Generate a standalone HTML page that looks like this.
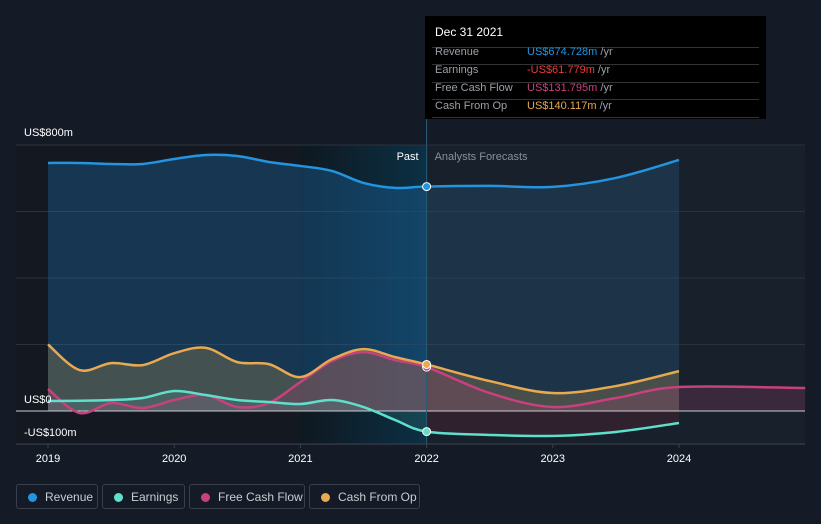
<!DOCTYPE html>
<html><head><meta charset="utf-8"><style>
body{margin:0;background:#151b26;font-family:"Liberation Sans",sans-serif;}
svg{display:block}
.lg{position:absolute;top:484px;height:25px;border:1px solid #3a404b;border-radius:3px;color:#c9ccd2;font-size:12px;line-height:25px;box-sizing:border-box}
.lg i{display:inline-block;width:9px;height:9px;border-radius:50%;margin:0 8px 0 11px;vertical-align:-1px}
</style></head><body>
<div style="position:relative;width:821px;height:524px;overflow:hidden">
<svg id="c" width="821" height="524"></svg>
<div class="lg" style="left:16px;width:82px"><i style="background:#2394df"></i>Revenue</div>
<div class="lg" style="left:102px;width:83px"><i style="background:#5fe0cc"></i>Earnings</div>
<div class="lg" style="left:189px;width:116px"><i style="background:#c8417f"></i>Free Cash Flow</div>
<div class="lg" style="left:309px;width:111px"><i style="background:#e8a951"></i>Cash From Op</div>
<div style="position:absolute;left:425px;top:16px;width:341px;height:103px;background:#000;font-size:11px;color:#9aa0a8">
<div style="position:absolute;left:10px;top:9px;color:#fff;font-size:12px">Dec 31 2021</div>
<div style="position:absolute;left:7px;right:7px;top:31px;border-top:1px solid #333"></div>
<div style="position:absolute;left:7px;right:7px;top:48px;border-top:1px solid #333"></div>
<div style="position:absolute;left:7px;right:7px;top:66px;border-top:1px solid #333"></div>
<div style="position:absolute;left:7px;right:7px;top:83px;border-top:1px solid #333"></div>
<div style="position:absolute;left:7px;right:7px;top:101px;border-top:1px solid #333"></div>
<div style="position:absolute;left:10px;top:27px;line-height:18px">Revenue<br>Earnings<br>Free Cash Flow<br>Cash From Op</div>
<div style="position:absolute;left:102px;top:27px;line-height:18px"><span style="color:#2394df">US$674.728m</span> /yr<br><span style="color:#ee3b3b">-US$61.779m</span> /yr<br><span style="color:#c8417f">US$131.795m</span> /yr<br><span style="color:#e8a951">US$140.117m</span> /yr</div>
</div>
</div>
<script>
const years=[2019,2019.25,2019.5,2019.75,2020,2020.25,2020.5,2020.75,2021,2021.25,2021.5,2021.75,2022,2022.5,2023,2023.5,2024];
const revenue=[746,746,743,743,758,770,767,749,737,722,686,671,675,677,674,701,755];
const cashFromOp=[200,123,144,138,174,190,147,141,102,156,186,162,140,90,54,75,120];
const fcfYears=[2019,2019.25,2019.5,2019.75,2020,2020.25,2020.5,2020.75,2021,2021.25,2021.5,2021.75,2022,2022.5,2023,2023.5,2024,2025];
const freeCashFlow=[66,-6,24,9,33,48,12,24,87,150,177,153,132,54,12,39,72,69];
const earnings=[30,31,33,39,60,48,33,27,21,33,12,-27,-62,-72,-75,-63,-36];
const yTicks=[800,0,-100];
const yTickLabels=["US$800m","US$0","-US$100m"];
const xTicks=[2019,2020,2021,2022,2023,2024];
const X=t=>48+(t-2019)*126.2;
const Y=v=>411-v*0.3325;
const svg=document.getElementById('c');
const NS='http://www.w3.org/2000/svg';
function el(tag,attrs,parent){const e=document.createElementNS(NS,tag);for(const k in attrs)e.setAttribute(k,attrs[k]);(parent||svg).appendChild(e);return e;}
function curve(xs,vs){const p=xs.map((t,i)=>[X(t),Y(vs[i])]);let d='M'+p[0][0]+','+p[0][1];for(let i=0;i<p.length-1;i++){const p0=p[i-1]||p[i],p1=p[i],p2=p[i+1],p3=p[i+2]||p2;d+=` C${p1[0]+(p2[0]-p0[0])/6},${p1[1]+(p2[1]-p0[1])/6} ${p2[0]-(p3[0]-p1[0])/6},${p2[1]-(p3[1]-p1[1])/6} ${p2[0]},${p2[1]}`;}return d;}
const defs=el('defs',{});
const g=el('linearGradient',{id:'past',x1:0,x2:1,y1:0,y2:0},defs);
el('stop',{offset:0,'stop-color':'#0e1820'},g);el('stop',{offset:1,'stop-color':'#0c3044'},g);
const cp1=el('clipPath',{id:'cpPast'},defs);el('rect',{x:0,y:0,width:X(2022),height:524},cp1);
const cp2=el('clipPath',{id:'cpFut'},defs);el('rect',{x:X(2022),y:0,width:821,height:524},cp2);
let r=el('rect',{x:16,y:145,width:X(2021)-16,height:299,fill:'#141820'});

r=el('rect',{x:X(2021),y:145,width:X(2022)-X(2021),height:299,fill:'url(#past)'});

r=el('rect',{x:X(2022),y:145,width:805-X(2022),height:299,fill:'#18202b'});

[800,600,400,200,-100].forEach(v=>{const l=el('line',{x1:16,x2:805,y1:Y(v),y2:Y(v),stroke:'#2b323d','stroke-width':1});
});
function area(xs,vs,fill,op,name,clip){const d=curve(xs,vs)+` L${X(xs[xs.length-1])},${Y(0)} L${X(xs[0])},${Y(0)} Z`;const a=el('path',{d,fill,'fill-opacity':op});
if(clip)a.setAttribute('clip-path','url(#'+clip+')');
}
function line(xs,vs,col,name){const a=el('path',{d:curve(xs,vs),fill:'none',stroke:col,'stroke-width':2.5});
}
area(years,revenue,'#1d6aa5',0.38,'revenue-area','cpPast');
area(years,revenue,'#2a5f88',0.3,'revenue-forecast-area','cpFut');
area(years,cashFromOp,'#8a7a50',0.4,'cash-from-op-area');
area(fcfYears,freeCashFlow,'#a04070',0.25,'fcf-area');
area(years,earnings,'#5fe0cc',0.12,'earnings-area','cpPast');
area(years,earnings,'#8a2a3a',0.2,'earnings-forecast-area','cpFut');
let z=el('line',{x1:16,x2:805,y1:Y(0),y2:Y(0),stroke:'#c8ccd2','stroke-width':1});

line(fcfYears,freeCashFlow,'#c8417f','fcf-line');
line(years,cashFromOp,'#e8a951','cash-from-op-line');
line(years,earnings,'#5fe0cc','earnings-line');
line(years,revenue,'#2394df','revenue-line');
let vl=el('line',{x1:X(2022),x2:X(2022),y1:119,y2:444,stroke:'#2a5a74','stroke-width':1});

let bl=el('line',{x1:16,x2:805,y1:444,y2:444,stroke:'#3a404b','stroke-width':1});

const i22=years.indexOf(2022);
[[freeCashFlow.slice(0,17),'#c8417f'],[revenue,'#2394df'],[cashFromOp,'#e8a951'],[earnings,'#5fe0cc']].forEach(([s,c])=>{const d=el('circle',{cx:X(2022),cy:Y(s[i22]),r:4,fill:c,stroke:'#fff','stroke-width':1});
});
yTicks.forEach((v,i)=>{const t=el('text',{x:24,y:v==800?136:(v==0?403:436),fill:'#fff','font-size':11});t.textContent=yTickLabels[i];
});
xTicks.forEach(v=>{const t=el('text',{x:X(v),y:462,fill:'#fff','font-size':11,'text-anchor':'middle'});t.textContent=v;

const k=el('line',{x1:X(v),x2:X(v),y1:444,y2:448,stroke:'#3a404b'});});
let p=el('text',{x:X(2022)-8,y:160,fill:'#fff','font-size':11,'text-anchor':'end'});p.textContent='Past';

p=el('text',{x:X(2022)+8,y:160,fill:'#8a9099','font-size':11});p.textContent='Analysts Forecasts';

</script>
</body></html>
